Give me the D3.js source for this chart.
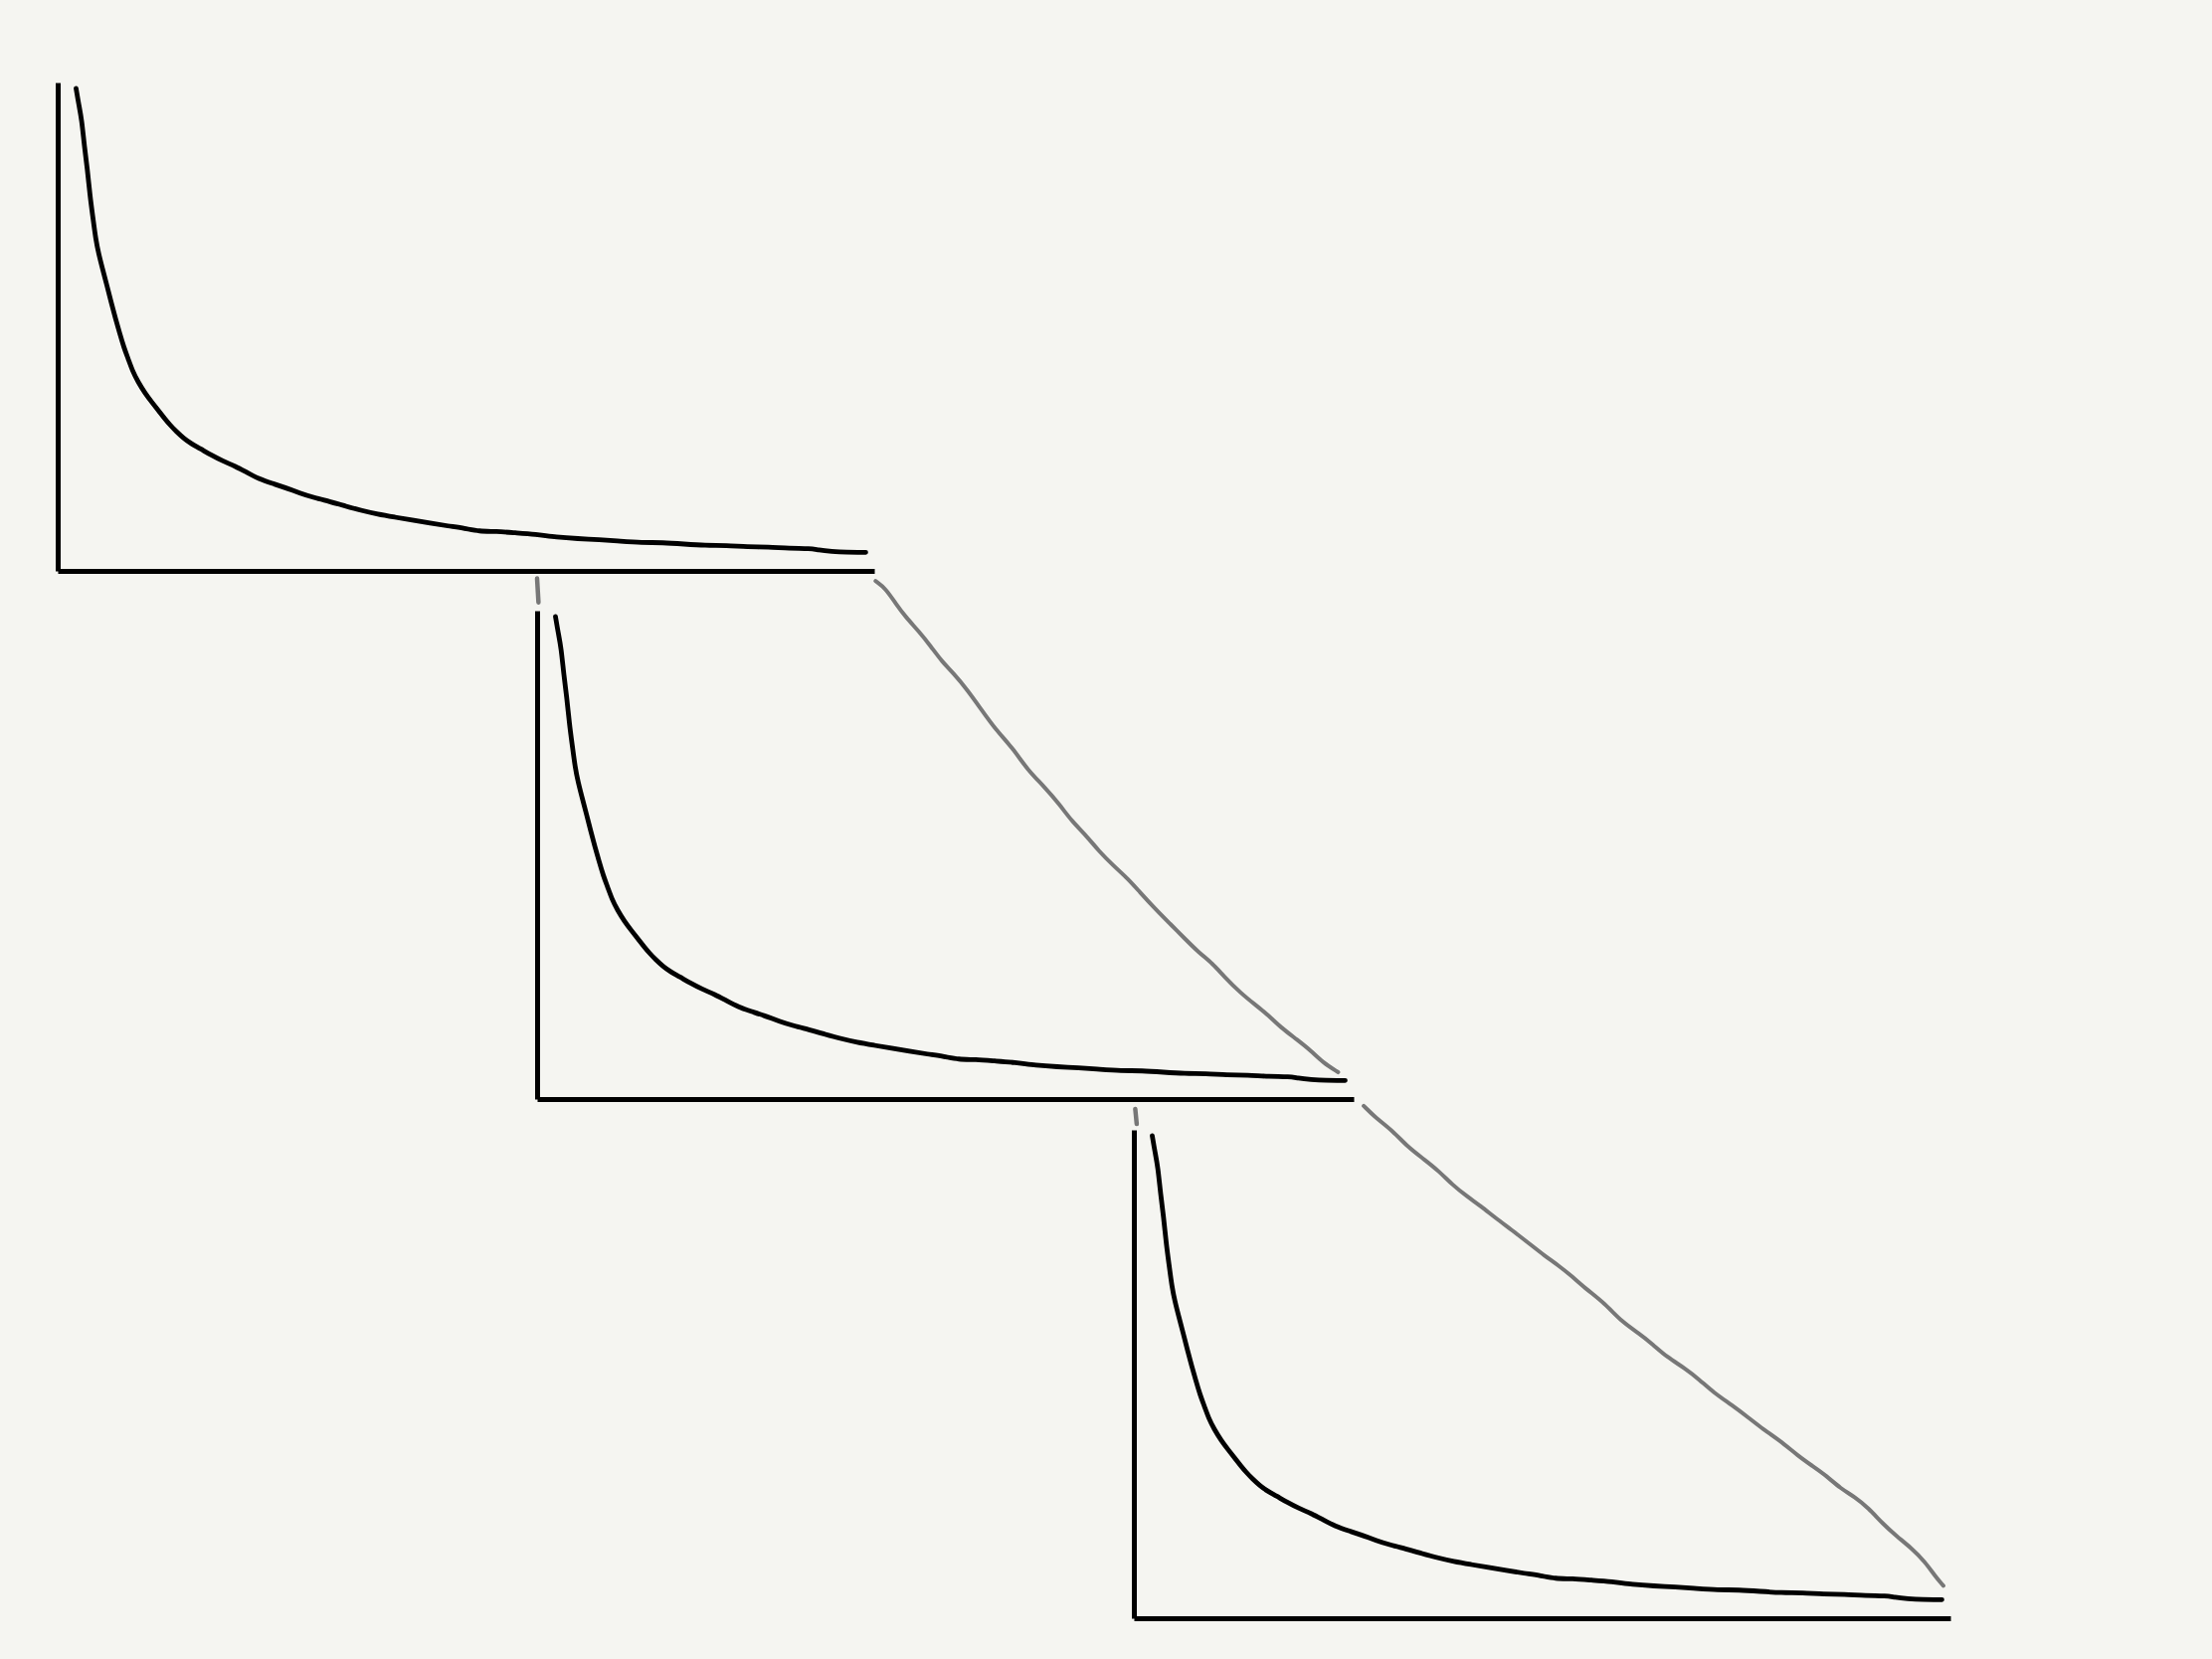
<!DOCTYPE html>
<html>
<head>
<meta charset="utf-8">
<script src="https://cdn.jsdelivr.net/npm/d3@7"></script>
<style>
  html, body { margin: 0; padding: 0; background: #f5f5f1; }
  svg { display: block; }
</style>
</head>
<body>
<svg id="chart" width="2224" height="1668"></svg>
<script>
// Decay curve (same shape in each of the three panels), in panel units (0-100)
const curveX = [2.25,2.59,2.94,3.28,3.63,3.97,4.32,4.66,5.01,5.53,6.04,6.56,7.08,7.60,8.12,8.64,9.15,9.84,10.7,11.6,12.4,13.1,13.8,14.5,15.4,16.4,17.4,18.8,20.2,21.8,23.1,24.7,26.3,27.8,29.7,31.4,33.3,35.2,37.1,39.2,41.3,43.4,45.6,47.8,49.9,51.6,53.7,56.0,58.5,61.1,63.7,66.3,68.9,71.5,74.1,76.7,79.3,81.9,84.5,87.0,89.6,92.2,93.1,94.8,96.5,98.96];
const curveY = [98.8,95.4,92.5,86.7,82.4,76.6,72.3,67.9,65.0,61.6,58.4,54.9,51.7,48.6,45.7,43.4,41.0,38.7,36.4,34.4,32.7,31.2,29.8,28.6,27.2,26.0,25.1,23.7,22.5,21.4,20.2,18.8,17.9,17.1,15.9,15.0,14.2,13.3,12.4,11.6,11.0,10.4,9.8,9.2,8.7,8.1,8.1,7.8,7.5,6.9,6.6,6.4,6.1,5.8,5.8,5.5,5.2,5.2,4.9,4.9,4.6,4.6,4.3,4.0,3.8,3.8];

// Grey connector into panel 2 (in panel-2 units)
const link1X = [41.45,42.66,44.04,45.08,46.80,48.19,49.57,50.95,52.68,54.40,56.13,58.20,60.10,62.00,64.08,65.46,67.36,68.74,70.64,72.37,73.75,75.82,77.55,79.27,81.00,82.73,84.11,86.18,87.91,89.64,91.02,93.09,94.82,96.20,98.10];
const link1Y = [106.07,104.62,101.16,98.84,95.66,92.77,89.60,87.28,83.82,79.77,75.72,71.97,67.34,64.16,60.12,56.94,53.76,50.87,47.69,45.09,42.49,38.73,35.84,32.95,30.06,27.75,25.14,21.68,19.36,17.05,14.74,12.14,9.83,7.51,5.49];

// Grey connector into panel 3 (in panel-3 units)
const link2X = [28.15,29.53,31.78,33.51,35.58,37.31,39.03,40.76,42.49,44.21,46.29,48.53,50.26,51.99,53.71,55.44,57.69,59.76,61.83,63.56,65.28,67.53,69.26,70.98,73.23,75.30,77.03,79.10,81.35,83.07,84.80,86.53,88.26,89.98,91.71,93.44,95.16,96.89,98.10,99.14];
const link2Y = [104.91,102.60,99.71,96.53,93.93,91.62,88.73,86.42,84.39,82.08,79.48,76.59,74.28,72.25,69.94,67.34,64.45,60.69,58.38,56.07,53.47,51.16,48.84,46.24,43.64,41.04,38.73,36.42,33.24,31.21,29.19,26.59,24.86,22.54,19.36,16.76,14.45,11.56,8.67,6.65];

// Short grey dashes above panels 2 and 3
const tick1X = [0.0, 0.17];
const tick1Y = [106.6, 101.7];
const tick2X = [0.17, 0.35];
const tick2Y = [104.3, 101.2];

const panels = [
  { ox: 58,   oy: 574 },
  { ox: 540,  oy: 1105 },
  { ox: 1140, oy: 1627 }
];
const W = 821, H = 491;

const svg = d3.select("#chart");
const x = d3.scaleLinear().domain([0, 100]).range([0, W]);
const y = d3.scaleLinear().domain([0, 100]).range([H, 0]);

const line = d3.line()
  .x(d => x(d[0]))
  .y(d => y(d[1]))
  .curve(d3.curveBasis);

const straight = d3.line().x(d => x(d[0])).y(d => y(d[1]));

const curvePts = curveX.map((v, i) => [v, curveY[i]]);
const GREY = "#777777";

panels.forEach((p, idx) => {
  const g = svg.append("g").attr("transform", `translate(${p.ox},${p.oy - H})`);

  const links = [null,
    { lx: link1X, ly: link1Y, tx: tick1X, ty: tick1Y },
    { lx: link2X, ly: link2Y, tx: tick2X, ty: tick2Y }][idx];
  if (links) {
    g.append("path").datum(links.lx.map((v, i) => [v, links.ly[i]]))
      .attr("d", line).attr("fill", "none").attr("stroke", GREY)
      .attr("stroke-width", 4).attr("stroke-linecap", "round").attr("stroke-linejoin", "round");
    g.append("path").datum(links.tx.map((v, i) => [v, links.ty[i]]))
      .attr("d", straight).attr("fill", "none")
      .attr("stroke", GREY).attr("stroke-width", 4.5).attr("stroke-linecap", "round");
  }

  // axes (no ticks)
  const xAxis = g.append("g").attr("transform", `translate(0,${H})`)
    .call(d3.axisBottom(x).tickValues([]).tickSizeOuter(0));
  const yAxis = g.append("g")
    .call(d3.axisLeft(y).tickValues([]).tickSizeOuter(0));
  [xAxis, yAxis].forEach(a => a.select(".domain")
    .attr("stroke", "#000").attr("stroke-width", 5).attr("stroke-linecap", "butt"));

  // decay curve
  g.append("path").datum(curvePts)
    .attr("d", line).attr("fill", "none").attr("stroke", "#000")
    .attr("stroke-width", 4.8).attr("stroke-linecap", "round").attr("stroke-linejoin", "round");
});
</script>
</body>
</html>
